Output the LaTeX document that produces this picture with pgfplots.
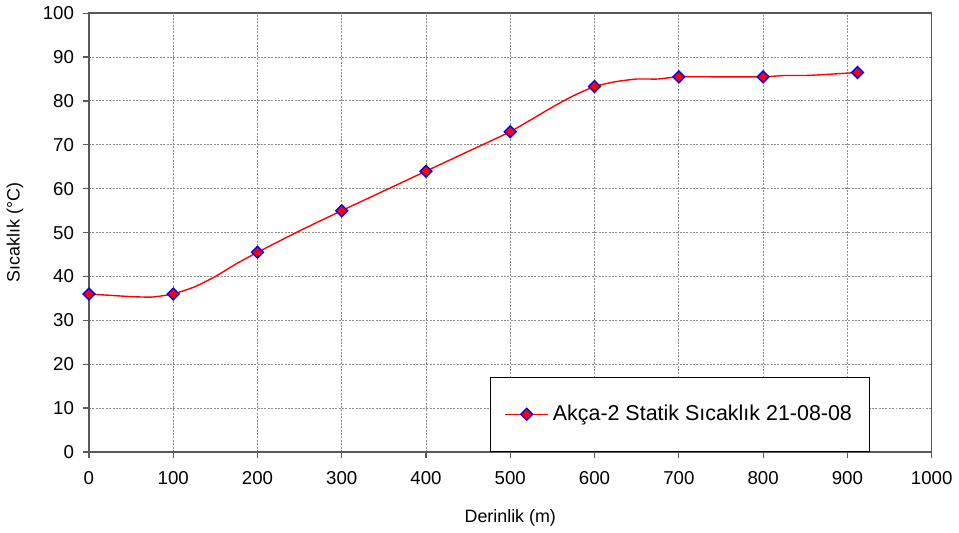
\documentclass[border=0pt]{standalone}
\usepackage{fontspec}
\setmainfont{Liberation Sans}
\usepackage{pgfplots}
\pgfplotsset{compat=1.18}
\definecolor{LineRed}{HTML}{FF0000}
\definecolor{MarkBlue}{HTML}{0000FF}

\begin{document}
\begin{tikzpicture}
\begin{axis}[scale only axis,width=424.5pt,height=221pt,
  xmin=0,xmax=1000,ymin=0,ymax=100,
  xtick={0,100,...,1000},ytick={0,10,...,100},
  xmajorgrids,ymajorgrids,
  grid style={gray!90,dash pattern=on 1pt off 0.7pt,line width=0.5pt},
  axis line style={black!65,line width=0.8pt},
  tick pos=left,
  tick align=outside,major tick length=3pt,tick style={black!65,line width=0.6pt},
  /pgf/number format/assume math mode=true,
  /pgf/number format/set thousands separator={},
  tick label style={font=\fontsize{9.4}{10}\selectfont},
  xticklabel style={yshift=-3.5pt},
  yticklabel style={xshift=-1pt},
  xlabel={Derinlik (m)},ylabel={Sıcaklık (°C)},
  label style={font=\fontsize{9}{10}\selectfont},
  xlabel style={yshift=-5.5pt},
  ylabel style={yshift=3pt},
  legend style={at={(0.476,0)},anchor=south west,draw=black,line width=0.6pt,
    inner xsep=7pt,inner ysep=12pt,font=\fontsize{10.8}{13}\selectfont,cells={anchor=west}},
  legend image code/.code={
    \draw[LineRed,line width=0.7pt] (0cm,0cm) -- (0.76cm,0cm);
    \draw[#1] plot coordinates {(0.38cm,0cm)};}
]
% smoothed line (more points than the markers)
\addplot[LineRed,line width=0.7pt,smooth,tension=0.3,forget plot] coordinates {
(0,36)(25,35.7)(50,35.4)(75,35.3)(100,36)(125,37.6)(150,40)(175,42.9)(200,45.5)
(250,50.4)(300,55)(350,59.5)(400,64)(450,68.5)(500,73)(550,78.6)(575,81.2)(600,83.3)
(625,84.4)(650,85)(675,85)(700,85.5)(750,85.5)(800,85.5)(825,85.8)(850,85.8)(880,86.1)(912,86.5)};
% measured points
\addplot[only marks,mark=square*,mark size=2.1pt,mark options={rotate=45,fill=LineRed,draw=MarkBlue,line width=0.7pt}] coordinates {
(0,36)(100,36)(200,45.5)(300,55)(400,64)(500,73)(600,83.3)(700,85.5)(800,85.5)(912,86.5)};
\addlegendentry{Akça-2 Statik Sıcaklık 21-08-08}
\end{axis}
\end{tikzpicture}
\end{document}
